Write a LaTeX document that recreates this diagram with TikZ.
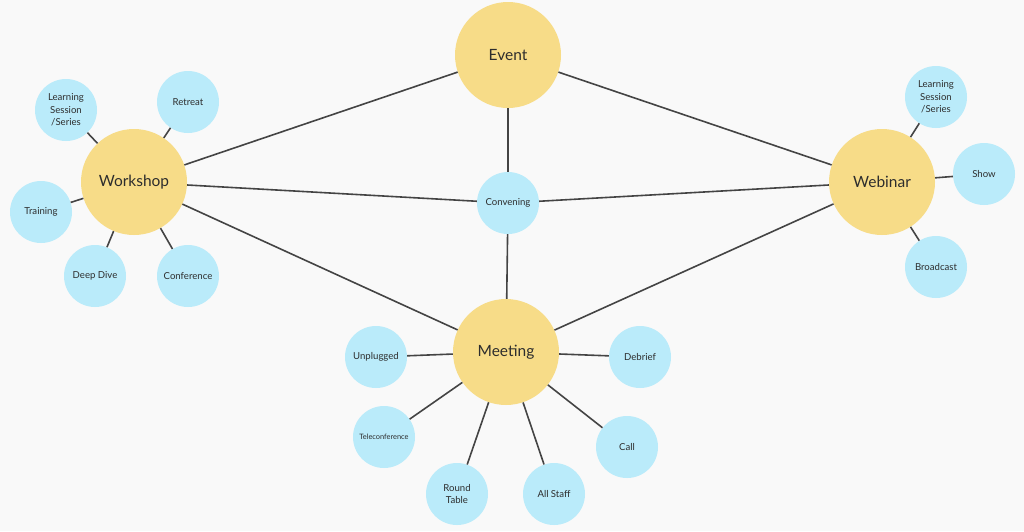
\documentclass[tikz,border=0pt]{standalone}
\usepackage{fontspec}
\setmainfont{Lato}
\definecolor{hubfill}{RGB}{247,220,136}
\definecolor{leaffill}{RGB}{186,235,250}
\definecolor{edgegray}{RGB}{68,68,68}
\definecolor{bggray}{RGB}{249,249,249}
\definecolor{txtgray}{RGB}{45,45,45}
\begin{document}
\begin{tikzpicture}[x=1pt,y=-1pt,
    hub/.style={circle,fill=hubfill,minimum size=106pt,inner sep=0pt,text=txtgray,font=\fontsize{15.5}{18}\selectfont},
    leaf/.style={circle,fill=leaffill,minimum size=62pt,inner sep=0pt,align=center,text=txtgray,font=\fontsize{9.6}{12.5}\selectfont}]
      \fill[bggray] (0,0) rectangle (1024,531);
      \useasboundingbox (0,0) rectangle (1024,531);
      \path
        (508,55) node[hub] (event){Event}
        (134,182) node[hub] (workshop){Workshop}
        (882,182) node[hub] (webinar){Webinar}
        (506,352) node[hub] (meeting){Meeting}
        (508,203) node[leaf] (convening){Convening}
        (66,110) node[leaf] (wlearning){Learning\\Session\\/Series}
        (188,102) node[leaf] (retreat){Retreat}
        (41,212) node[leaf] (training){Training}
        (95,276) node[leaf] (deepdive){Deep Dive}
        (188,276) node[leaf] (conference){Conference}
        (936,97) node[leaf] (blearning){Learning\\Session\\/Series}
        (984,174) node[leaf] (show){Show}
        (936,267) node[leaf] (broadcast){Broadcast}
        (376,357) node[leaf] (unplugged){Unplugged}
        (640,357) node[leaf] (debrief){Debrief}
        (384,437) node[leaf,font=\fontsize{7.4}{9}\selectfont] (teleconf){Teleconference}
        (627,447) node[leaf] (call){Call}
        (457,494) node[leaf] (roundtable){Round\\Table}
        (554,494) node[leaf] (allstaff){All Staff};
      \begin{scope}[edgegray,line width=1.6pt]
        \draw (event) to (workshop);
        \draw (event) to (webinar);
        \draw (event) to (convening);
        \draw (workshop) to (convening);
        \draw (convening) to (webinar);
        \draw (convening) to (meeting);
        \draw (workshop) to (meeting);
        \draw (webinar) to (meeting);
        \draw (workshop) to (wlearning);
        \draw (workshop) to (retreat);
        \draw (workshop) to (training);
        \draw (workshop) to (deepdive);
        \draw (workshop) to (conference);
        \draw (webinar) to (blearning);
        \draw (webinar) to (show);
        \draw (webinar) to (broadcast);
        \draw (meeting) to (unplugged);
        \draw (meeting) to (debrief);
        \draw (meeting) to (teleconf);
        \draw (meeting) to (call);
        \draw (meeting) to (roundtable);
        \draw (meeting) to (allstaff);
      \end{scope}
    \end{tikzpicture}
\end{document}
